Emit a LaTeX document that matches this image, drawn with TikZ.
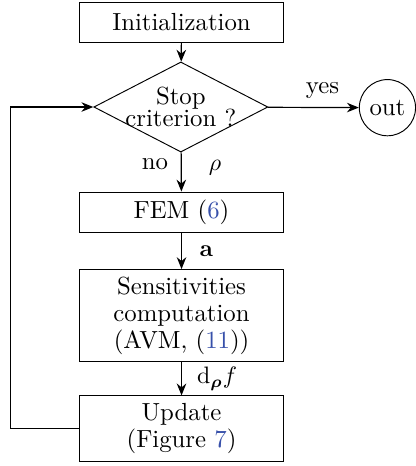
\documentclass[tikz,border=0pt]{standalone}
\usepackage{amsmath,bm}
\usetikzlibrary{shapes.geometric,arrows.meta}
\definecolor{refblue}{RGB}{55,80,170}
\begin{document}
\begin{tikzpicture}
        \tikzstyle{every node}=[font=\fontsize{10.4pt}{11.3pt}\selectfont, text=black, align=center]
        \tikzstyle{block}=[rectangle, draw=black, minimum width=3.01cm, inner sep=0pt]
        \tikzstyle{edge}=[black, line width=0.5pt, -{Stealth[length=5pt,width=4pt]}]
        \useasboundingbox (0,0) rectangle (6.14,-6.88);

        \node[block, minimum height=0.58cm] (init) at (2.68,-0.33) {Initialization};
        \node[diamond, draw=black, minimum width=2.57cm, minimum height=1.33cm, inner sep=-8pt] (stop) at (2.67,-1.58) {Stop\\[-1.8pt] criterion ?};
        \node[circle, draw=black, minimum size=0.83cm, inner sep=0pt] (out) at (5.72,-1.59) {out};
        \node[block, minimum height=0.59cm] (fem) at (2.68,-3.13) {FEM (\textcolor{refblue}{6})};
        \node[block, minimum height=1.36cm] (sens) at (2.68,-4.66) {Sensitivities\\ computation\\ (AVM, (\textcolor{refblue}{11}))};
        \node[block, minimum height=0.97cm] (upd) at (2.68,-6.33) {Update\\ (Figure \textcolor{refblue}{7})};
        \coordinate (corner) at (0.16,-6.33);

        \draw[edge] (init) -- (stop);
        \draw[edge] (stop) -- node[above, pos=0.6] {yes} (out);
        \draw[edge] (stop) -- node[left, pos=0.3, xshift=-2pt] {no} node[right, pos=0.4, xshift=8pt] {$\rho$} (fem);
        \draw[edge] (fem) -- node[right, xshift=4pt] {$\mathbf{a}$} (sens);
        \draw[edge] (sens) -- node[right, xshift=3pt] {$\mathrm{d}_{\bm{\rho}} f$} (upd);
        \draw[edge] (upd.west) -- (corner) |- (stop.west);
    \end{tikzpicture}
\end{document}
